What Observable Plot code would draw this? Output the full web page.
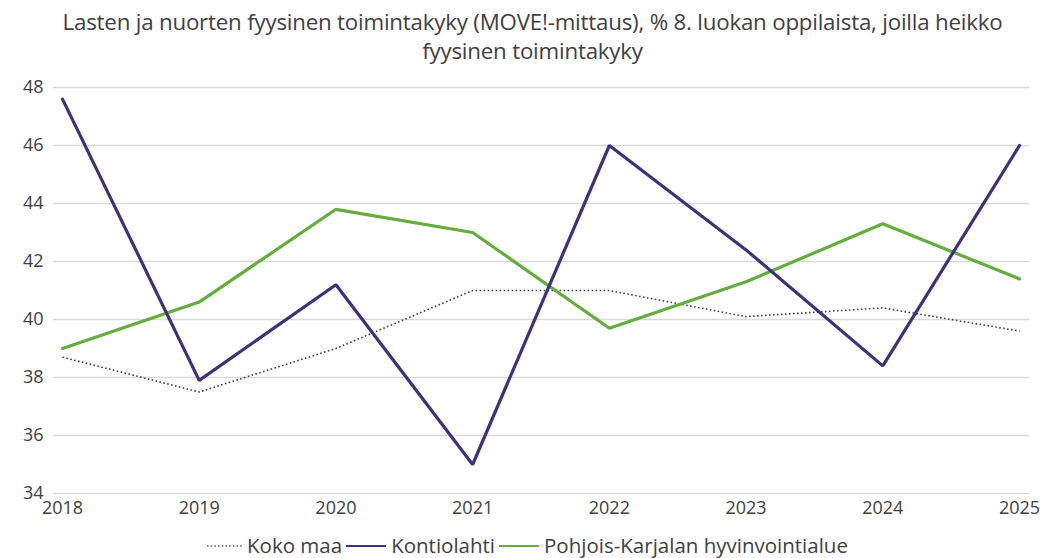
<!DOCTYPE html>
<html>
<head>
<meta charset="utf-8">
<script src="https://cdn.jsdelivr.net/npm/d3@7"></script>
<script src="https://cdn.jsdelivr.net/npm/@observablehq/plot@0.6"></script>
<style>
  body { margin: 0; background: #fff; font-family: "Open Sans", "Noto Sans", sans-serif; }
  #wrap { width: 1051px; height: 558px; position: relative; overflow: hidden; }
  #title { position: absolute; top: 7px; left: 14px; width: 1037px; text-align: center; font-size: 22.3px; line-height: 29px; color: #404040; letter-spacing: -0.2px; }
  #chart { position: absolute; top: 65px; left: 0; }
  #legend { position: absolute; top: 531px; left: 0; width: 1051px; text-align: center; font-size: 20.5px; line-height: 28px; color: #404040; }
  #legend span.item { white-space: nowrap; }
  #legend svg { vertical-align: middle; margin-right: 5px; margin-left: 4px; margin-top: -3px; }
</style>
</head>
<body>
<div id="wrap">
  <div id="title">Lasten ja nuorten fyysinen toimintakyky (MOVE!-mittaus), % 8. luokan oppilaista, joilla heikko<br>fyysinen toimintakyky</div>
  <div id="chart"></div>
  <div id="legend"></div>
</div>
<script>
const years = [2018, 2019, 2020, 2021, 2022, 2023, 2024, 2025];
const kokoMaa = [38.7, 37.5, 39.0, 41.0, 41.0, 40.1, 40.4, 39.6];
const kontiolahti = [47.6, 37.9, 41.2, 35.0, 46.0, 42.4, 38.4, 46.0];
const pohjoisKarjala = [39.0, 40.6, 43.8, 43.0, 39.7, 41.3, 43.3, 41.4];
const yTicks = [34, 36, 38, 40, 42, 44, 46, 48];
const seriesNames = ["Koko maa", "Kontiolahti", "Pohjois-Karjalan hyvinvointialue"];
const seriesColors = ["#404040", "#3f2f80", "#62ad3c"];

const seriesValues = [kokoMaa, kontiolahti, pohjoisKarjala];
const rows = (i) => years.map((y, j) => ({year: y, value: seriesValues[i][j], series: seriesNames[i]}));

const chart = Plot.plot({
  width: 1051,
  height: 458,
  marginTop: 22,
  marginBottom: 30,
  marginLeft: 53,
  marginRight: 22,
  insetLeft: 9,
  insetRight: 10,
  style: { fontFamily: "'Open Sans', 'Noto Sans', sans-serif", fontSize: "18px", color: "#404040", background: "#fff" },
  x: { domain: [2018, 2025], ticks: years, tickFormat: d => String(d), tickSize: 0, tickPadding: 9, label: null },
  y: { domain: [34, 48], ticks: yTicks, tickSize: 0, tickPadding: 11, label: null },
  marks: [
    Plot.ruleY(yTicks, { stroke: "#d9d9d9", strokeWidth: 1.3 }),
    Plot.axisY({ ticks: yTicks, tickSize: 0, tickPadding: 10, label: null, fill: "#404040", fontSize: 18 }),
    Plot.axisX({ ticks: years, tickFormat: d => String(d), tickSize: 0, tickPadding: 8, label: null, fill: "#404040", fontSize: 18 }),
    Plot.line(rows(0), { x: "year", y: "value", stroke: seriesColors[0], strokeWidth: 1.6, strokeDasharray: "1.6,2.4", strokeLinecap: "butt" }),
    Plot.line(rows(2), { x: "year", y: "value", stroke: seriesColors[2], strokeWidth: 3.2, strokeLinejoin: "miter" }),
    Plot.line(rows(1), { x: "year", y: "value", stroke: seriesColors[1], strokeWidth: 3.2, strokeLinejoin: "miter" })
  ]
});
document.getElementById("chart").appendChild(chart);

const legend = document.getElementById("legend");
seriesNames.forEach((name, i) => {
  const item = document.createElement("span");
  item.className = "item";
  const dash = i === 0 ? 'stroke-dasharray="1.5,2.2"' : '';
  const sw = i === 0 ? 1.6 : 2.2;
  const w = i === 0 ? 35 : 40;
  item.innerHTML = `<svg width="${w}" height="10"><line x1="0" y1="5" x2="${w}" y2="5" stroke="${i === 0 ? '#555' : seriesColors[i]}" stroke-width="${sw}" ${dash}/></svg>${name}`;
  legend.appendChild(item);
});
</script>
</body>
</html>
